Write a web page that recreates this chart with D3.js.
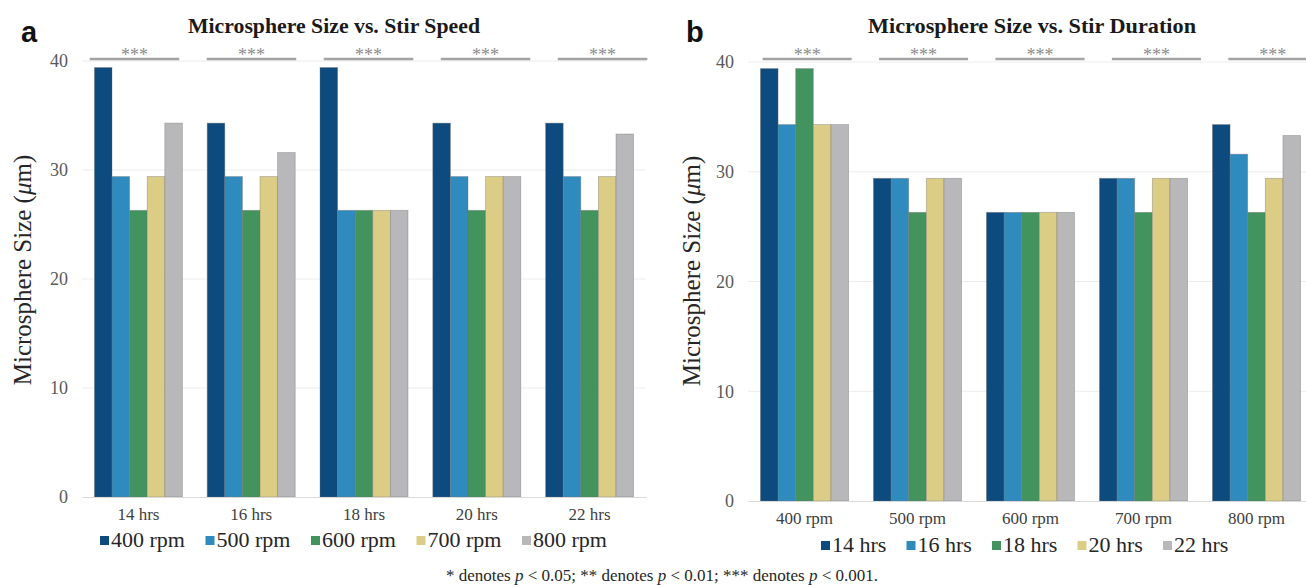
<!DOCTYPE html>
<html>
<head>
<meta charset="utf-8">
<script src="https://cdn.jsdelivr.net/npm/d3@7"></script>
<style>
  body { margin: 0; background: #fff; }
  svg { display: block; }
  svg text { font-family: "Liberation Serif", "Times New Roman", serif; }
</style>
</head>
<body>
<div id="chart"></div>
<script>
// data (microsphere size, µm)
const hours = ["14 hrs", "16 hrs", "18 hrs", "20 hrs", "22 hrs"];
const speeds = ["400 rpm", "500 rpm", "600 rpm", "700 rpm", "800 rpm"];

// panel a: grouped by stir duration, one series per stir speed
const speed400 = [39.4, 34.3, 39.4, 34.3, 34.3];
const speed500 = [29.4, 29.4, 26.3, 29.4, 29.4];
const speed600 = [26.3, 26.3, 26.3, 26.3, 26.3];
const speed700 = [29.4, 29.4, 26.3, 29.4, 29.4];
const speed800 = [34.3, 31.6, 26.3, 29.4, 33.3];

// panel b: grouped by stir speed, one series per stir duration
const hrs14 = [39.4, 29.4, 26.3, 29.4, 34.3];
const hrs16 = [34.3, 29.4, 26.3, 29.4, 31.6];
const hrs18 = [39.4, 26.3, 26.3, 26.3, 26.3];
const hrs20 = [34.3, 29.4, 26.3, 29.4, 29.4];
const hrs22 = [34.3, 29.4, 26.3, 29.4, 33.3];

const yTicks = [0, 10, 20, 30, 40];
const sigLabels = ["***", "***", "***", "***", "***"];

const palette = ["#0d4a7e", "#2f8bbd", "#43935f", "#dccd86", "#b8b8bb"];
const SERIF = "'Liberation Serif', 'Times New Roman', serif";

const svg = d3.select("#chart").append("svg")
  .attr("width", 1306)
  .attr("height", 587);

svg.append("rect").attr("width", 1306).attr("height", 587).attr("fill", "#fff");

function panel(cfg) {
  const g = svg.append("g");

  const x0 = d3.scaleBand()
    .domain(cfg.groups)
    .range(cfg.xRange)
    .paddingInner(0.22)
    .paddingOuter(0.11);

  const x1 = d3.scaleBand()
    .domain(cfg.series.map(s => s.name))
    .range([0, x0.bandwidth()]);

  const y = d3.scaleLinear().domain([0, 40]).range(cfg.yRange);

  const color = d3.scaleOrdinal().domain(cfg.series.map(s => s.name)).range(palette);

  // gridlines
  g.selectAll(".grid")
    .data(yTicks.filter(t => t > 0))
    .enter().append("line")
    .attr("x1", cfg.xRange[0])
    .attr("x2", cfg.xRange[1])
    .attr("y1", d => y(d))
    .attr("y2", d => y(d))
    .attr("stroke", "#ececec")
    .attr("stroke-width", 1);

  // y axis labels
  const yAxis = g.append("g")
    .attr("transform", `translate(${cfg.xRange[0]},0)`)
    .call(d3.axisLeft(y).tickValues(yTicks).tickSize(0).tickPadding(14));
  yAxis.select(".domain").remove();
  yAxis.attr("font-family", null);
  yAxis.selectAll("text")
    .style("font-family", SERIF)
    .attr("font-size", 18)
    .attr("fill", "#595959");

  // bars
  const rows = cfg.groups.map((grp, i) => ({
    group: grp,
    values: cfg.series.map(s => ({ name: s.name, value: s.values[i] }))
  }));

  g.selectAll(".grp")
    .data(rows)
    .enter().append("g")
    .attr("transform", d => `translate(${x0(d.group)},0)`)
    .selectAll("rect")
    .data(d => d.values)
    .enter().append("rect")
    .attr("x", d => x1(d.name))
    .attr("y", d => y(d.value))
    .attr("width", x1.bandwidth())
    .attr("height", d => y(0) - y(d.value))
    .attr("fill", d => color(d.name))
    .attr("stroke", "#6f6f6f")
    .attr("stroke-opacity", 0.45)
    .attr("stroke-width", 0.8);

  // x axis
  const xAxis = g.append("g")
    .attr("transform", `translate(0,${y(0)})`)
    .call(d3.axisBottom(x0).tickSize(0).tickPadding(11));
  xAxis.attr("font-family", null);
  xAxis.select(".domain").attr("stroke", "#d9d9d9").attr("stroke-width", 1.2);
  xAxis.selectAll("text")
    .style("font-family", SERIF)
    .attr("font-size", 17)
    .attr("fill", "#404040");

  // significance brackets
  const xb = d3.scaleBand()
    .domain(cfg.groups)
    .range(cfg.bracketRange)
    .paddingInner(0.235)
    .paddingOuter(0.117);

  g.selectAll(".bracket")
    .data(cfg.groups)
    .enter().append("line")
    .attr("x1", d => xb(d))
    .attr("x2", d => xb(d) + xb.bandwidth())
    .attr("y1", cfg.bracketY)
    .attr("y2", cfg.bracketY)
    .attr("stroke", "#a3a3a3")
    .attr("stroke-width", 2.5);

  g.selectAll(".stars")
    .data(cfg.groups)
    .enter().append("text")
    .attr("x", d => xb(d) + xb.bandwidth() / 2)
    .attr("y", cfg.bracketY + 2)
    .attr("text-anchor", "middle")
    .attr("font-size", 18)
    .attr("fill", "#8c8c8c")
    .style("font-family", SERIF)
    .text((d, i) => sigLabels[i]);

  // title
  g.append("text")
    .attr("x", cfg.titleX)
    .attr("y", 33)
    .attr("text-anchor", "middle")
    .attr("font-size", 21)
    .attr("font-weight", "bold")
    .attr("fill", "#1a1a1a")
    .attr("textLength", cfg.titleLen)
    .attr("lengthAdjust", "spacingAndGlyphs")
    .style("font-family", SERIF)
    .text(cfg.title);

  // panel letter
  g.append("text")
    .attr("x", cfg.letterX)
    .attr("y", 42)
    .attr("font-size", 29)
    .attr("font-weight", "bold")
    .attr("fill", "#111")
    .style("font-family", "'Liberation Sans', Arial, sans-serif")
    .text(cfg.letter);

  // y axis title
  const yt = g.append("text")
    .attr("transform", `translate(${cfg.yTitleX},${cfg.yTitleY}) rotate(-90)`)
    .attr("text-anchor", "middle")
    .attr("font-size", 25)
    .attr("fill", "#262626")
    .style("font-family", SERIF);
  yt.append("tspan").text("Microsphere Size (");
  yt.append("tspan").attr("font-style", "italic").text("\u03bc");
  yt.append("tspan").text("m)");

  // legend
  const lg = g.append("g");
  const items = lg.selectAll("g")
    .data(cfg.series)
    .enter().append("g")
    .attr("transform", (d, i) => `translate(${cfg.legendX + i * cfg.legendStep},${cfg.legendY})`);
  items.append("rect")
    .attr("x", 0)
    .attr("y", -11)
    .attr("width", 9)
    .attr("height", 9)
    .attr("fill", d => color(d.name));
  items.append("text")
    .attr("x", 11)
    .attr("y", 0)
    .attr("font-size", 22)
    .attr("fill", "#262626")
    .style("font-family", SERIF)
    .text(d => d.name);
}

panel({
  letter: "a",
  letterX: 21,
  title: "Microsphere Size vs. Stir Speed",
  titleX: 334,
  titleLen: 292,
  groups: hours,
  series: [
    { name: speeds[0], values: speed400 },
    { name: speeds[1], values: speed500 },
    { name: speeds[2], values: speed600 },
    { name: speeds[3], values: speed700 },
    { name: speeds[4], values: speed800 }
  ],
  xRange: [82, 646],
  yRange: [497, 61],
  bracketRange: [76, 661],
  bracketY: 59,
  yTitleX: 31,
  yTitleY: 270,
  legendX: 100,
  legendStep: 105.5,
  legendY: 547
});

panel({
  letter: "b",
  letterX: 686,
  title: "Microsphere Size vs. Stir Duration",
  titleX: 1032,
  titleLen: 328,
  groups: speeds,
  series: [
    { name: hours[0], values: hrs14 },
    { name: hours[1], values: hrs16 },
    { name: hours[2], values: hrs18 },
    { name: hours[3], values: hrs20 },
    { name: hours[4], values: hrs22 }
  ],
  xRange: [748, 1313],
  yRange: [501, 62],
  bracketRange: [749, 1331],
  bracketY: 59,
  yTitleX: 700,
  yTitleY: 271,
  legendX: 821,
  legendStep: 85.5,
  legendY: 552
});

// footnote
const foot = svg.append("text")
  .attr("x", 662)
  .attr("y", 581)
  .attr("text-anchor", "middle")
  .attr("font-size", 17)
  .attr("fill", "#262626")
  .style("font-family", SERIF);
foot.append("tspan").text("* denotes ");
foot.append("tspan").attr("font-style", "italic").text("p");
foot.append("tspan").text(" < 0.05; ** denotes ");
foot.append("tspan").attr("font-style", "italic").text("p");
foot.append("tspan").text(" < 0.01; *** denotes ");
foot.append("tspan").attr("font-style", "italic").text("p");
foot.append("tspan").text(" < 0.001.");
</script>
</body>
</html>
